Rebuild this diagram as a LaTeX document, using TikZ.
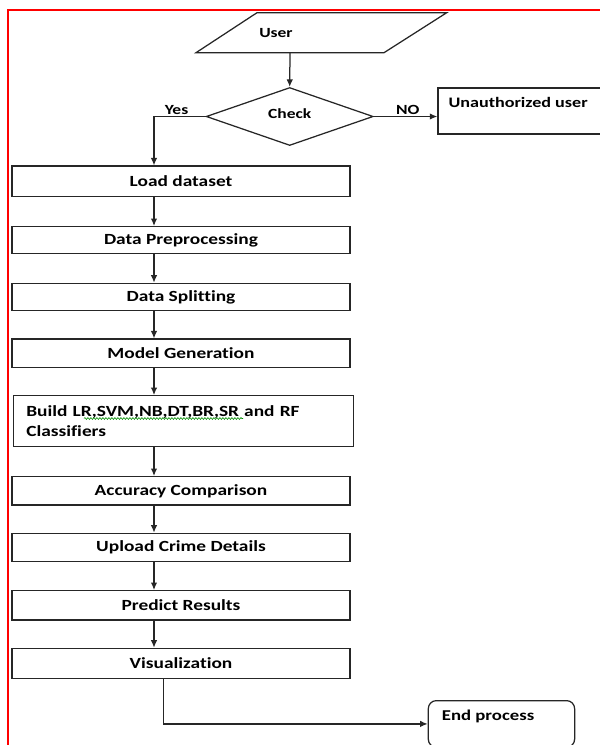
\documentclass[tikz,border=0pt]{standalone}
\usepackage{fontspec}
\setmainfont{Carlito}[FakeStretch=1.25,Ligatures=NoCommon]
\usetikzlibrary{shapes.geometric,arrows.meta,decorations.pathmorphing}

\tikzset{%
  stepbox/.style={
    rectangle,
    draw=black!85,
    line width=1.25pt,
    minimum width=338pt,
    minimum height=28pt,
    inner sep=0pt,
    font=\bfseries\fontsize{15.5}{20.6}\selectfont
  },
  decision/.style={
    diamond,
    draw=black!85,
    line width=1.25pt,
    minimum width=167pt,
    minimum height=56pt,
    inner sep=0pt,
    font=\bfseries\fontsize{14}{16}\selectfont
  },
  notebox/.style={
    rectangle,
    draw=black!85,
    line width=1.25pt,
    anchor=north west,
    inner sep=0pt
  },
  lbl/.style={
    inner sep=0pt,
    font=\bfseries\fontsize{14}{16}\selectfont
  },
  flow/.style={
    draw=black!85,
    line width=1.25pt,
    -{Latex[length=7.5pt,width=6.5pt]}
  },
}

\begin{document}
\begin{tikzpicture}[x=1pt,y=-1pt]
\clip (0,0) rectangle (600,745);
\draw[red, line width=1.6pt] (8,750) -- (8,10) -- (605,10);
\draw[draw=black!85, line width=1.25pt] (196,52.7) -- (257,12.7) -- (446.7,12.7) -- (384,52.7) -- cycle;
\node[lbl] (user) at (276,33) {User};
\coordinate (userout) at (290,52.7);
\node[decision] (check) at (289.7,116.5) {\raisebox{5pt}{Check}};
\node[notebox, minimum width=180pt, minimum height=46pt] (unauth) at (437.3,87.3) {};
\node[lbl, anchor=west, font=\bfseries\fontsize{14.5}{16}\selectfont] (unauthtxt) at (448.3,102) {Unauthorized user};
\node[lbl] (yes) at (176.5,110) {Yes};
\node[lbl] (no) at (407.7,109.5) {NO};
\node[stepbox, minimum height=30.7pt] (load) at (181,181.4) {Load dataset};
\node[stepbox, minimum height=26.7pt] (prep) at (181,240) {Data Preprocessing};
\node[stepbox, minimum height=27.4pt] (split) at (181,297) {Data Splitting};
\node[stepbox, minimum height=28.3pt] (model) at (181,353.2) {Model Generation};
\node[stepbox, minimum width=340pt, minimum height=51pt, text width=314pt, align=left] (build) at (183.3,421.2) {Build LR,SVM,NB,DT,BR,SR and RF\\Classifiers};
\draw[green!55!black, line width=0.6pt, decorate, decoration={snake, amplitude=0.9pt, segment length=3pt}] (84,418.5) -- (243,418.5);
\node[stepbox, minimum height=28.3pt] (acc) at (181,490.8) {Accuracy Comparison};
\node[stepbox, minimum height=28.4pt] (upload) at (181,547.5) {Upload Crime Details};
\node[stepbox, minimum height=29.3pt] (predict) at (181,605.3) {Predict Results};
\node[stepbox, minimum height=30pt] (vis) at (181,663.3) {Visualization};
\node[notebox, rounded corners=8pt, minimum width=146.3pt, minimum height=46.6pt] (endbox) at (427.7,700) {};
\node[lbl, anchor=west, font=\bfseries\fontsize{15}{16}\selectfont] (endtxt) at (441.7,716) {End process};
\coordinate (axis) at (154,0);
\coordinate (endaxis) at (163.3,0);
\draw[flow] (userout) -- (check.north);
\draw[flow] (check.east) -- (check.east -| unauth.west);
\draw[flow] (check.west) -| (load.north -| axis);
\draw[flow] (load.south -| axis) -- (prep.north -| axis);
\draw[flow] (prep.south -| axis) -- (split.north -| axis);
\draw[flow] (split.south -| axis) -- (model.north -| axis);
\draw[flow] (model.south -| axis) -- (build.north -| axis);
\draw[flow] (build.south -| axis) -- (acc.north -| axis);
\draw[flow] (acc.south -| axis) -- (upload.north -| axis);
\draw[flow] (upload.south -| axis) -- (predict.north -| axis);
\draw[flow] (predict.south -| axis) -- (vis.north -| axis);
\draw[flow] (vis.south -| endaxis) |- (endbox.west);
\end{tikzpicture}
\end{document}
